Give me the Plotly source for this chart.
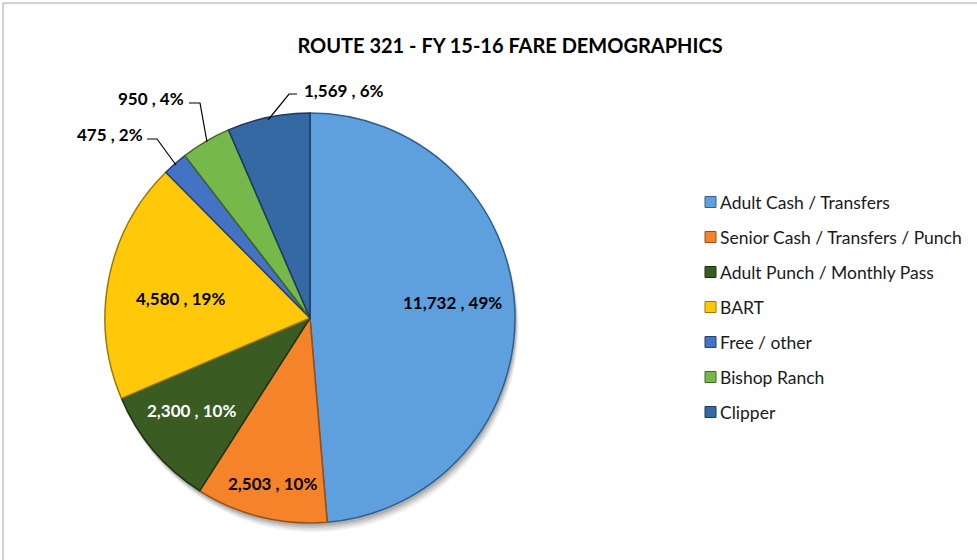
import plotly.graph_objects as go

# Fare categories and boardings for Route 321, FY 15-16
categories = [
    "Adult Cash / Transfers",
    "Senior Cash / Transfers / Punch",
    "Adult Punch / Monthly Pass",
    "BART",
    "Free / other",
    "Bishop Ranch",
    "Clipper",
]
boardings = [11732, 2503, 2300, 4580, 475, 950, 1569]
percent_labels = ["49%", "10%", "10%", "19%", "2%", "4%", "6%"]

colors = ["#5E9FDE", "#F5832A", "#3A5B22", "#FFC90A", "#4472C4", "#77B84A", "#3469A3"]
edge_colors = ["#2F5F8F", "#9C4E12", "#1E3311", "#9C7A00", "#263F73", "#3F6826", "#1C3A5E"]

W, H = 977, 560
# pie centre and radius in pixels
CX, CY, R = 310, 318, 205


def px(x):
    return x / W


def py(y):
    return 1 - y / H


fig = go.Figure()

# soft drop shadow behind the pie
for off, alpha in [(9, 0.06), (7, 0.08), (5, 0.10), (3, 0.12)]:
    fig.add_trace(go.Pie(
        values=[1], labels=["shadow"], marker=dict(colors=[f"rgba(0,0,0,{alpha})"]),
        domain=dict(x=[px(CX - R + off * 0.4), px(CX + R + off * 0.4)],
                    y=[py(CY + R + off), py(CY - R + off)]),
        textinfo="none", hoverinfo="skip", showlegend=False, sort=False,
    ))

fig.add_trace(go.Pie(
    labels=categories,
    values=boardings,
    sort=False,
    direction="clockwise",
    rotation=0,
    marker=dict(colors=colors, line=dict(color=edge_colors, width=1.5)),
    textinfo="none",
    domain=dict(x=[px(CX - R), px(CX + R)], y=[py(CY + R), py(CY - R)]),
    showlegend=False,
))

# pixel-space overlay axis for labels, leader lines and legend
fig.update_xaxes(range=[0, W], visible=False, fixedrange=True)
fig.update_yaxes(range=[H, 0], visible=False, fixedrange=True)

label_font = "Lato, 'Open Sans', sans-serif"


def data_label(i):
    return f"{boardings[i]:,} , {percent_labels[i]}"


# inside labels: (index, x, y, colour)
inside = [(0, 452, 302, "#000000"), (1, 272, 483, "#000000"),
          (2, 191, 410, "#FFFFFF"), (3, 180, 298, "#000000")]
for i, x, y, c in inside:
    fig.add_annotation(x=x, y=y, xref="x", yref="y", text=f"<b>{data_label(i)}</b>",
                       showarrow=False, font=dict(family=label_font, size=17, color=c))

# outside labels with elbow leader lines: (index, text x, text y, path points)
outside = [
    (4, 110, 134, [(147, 139), (157, 139), (176, 165)]),
    (5, 151, 98, [(189, 103), (200, 103), (207, 142)]),
    (6, 344, 90, [(297, 94), (289, 94), (268, 120)]),
]
for i, x, y, pts in outside:
    fig.add_annotation(x=x, y=y, xref="x", yref="y", text=f"<b>{data_label(i)}</b>",
                       showarrow=False, font=dict(family=label_font, size=17, color="#000000"))
    path = "M " + " L ".join(f"{a},{b}" for a, b in pts)
    fig.add_shape(type="path", path=path, xref="x", yref="y",
                  line=dict(color="#000000", width=1.2))

# legend drawn as swatches + text
legend_x, legend_y0, legend_dy = 705, 202, 35
for k, name in enumerate(categories):
    y = legend_y0 + k * legend_dy
    fig.add_shape(type="rect", xref="x", yref="y",
                  x0=legend_x, x1=legend_x + 11, y0=y - 5.5, y1=y + 5.5,
                  fillcolor=colors[k], line=dict(color=edge_colors[k], width=1))
    fig.add_annotation(x=legend_x + 13, y=y, xref="x", yref="y", text=name,
                       xanchor="left", showarrow=False,
                       font=dict(family=label_font, size=17.5, color="#1A1A1A"))

# chart frame
fig.add_shape(type="rect", xref="x", yref="y", x0=3, y0=3, x1=W + 5, y1=H + 5,
              line=dict(color="#A6A6A6", width=1), fillcolor="rgba(0,0,0,0)")

fig.update_layout(
    width=W, height=H,
    margin=dict(l=0, r=0, t=0, b=0),
    paper_bgcolor="white", plot_bgcolor="rgba(0,0,0,0)",
    title=dict(text="<b>ROUTE 321 - FY 15-16 FARE DEMOGRAPHICS</b>",
               x=510 / W, xanchor="center", y=py(46), yanchor="middle",
               font=dict(family=label_font, size=20, color="#000000")),
    showlegend=False,
)

fig.write_html("out.html")
